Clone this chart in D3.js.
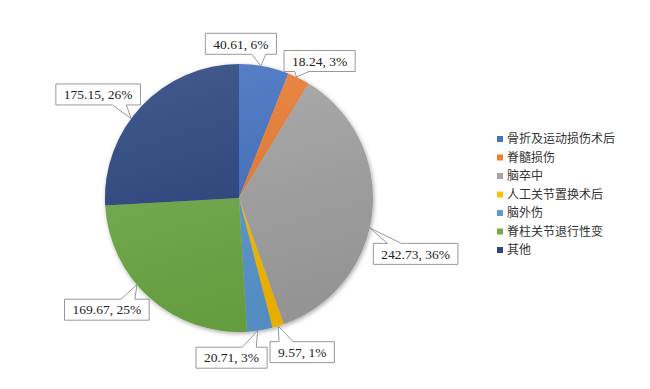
<!DOCTYPE html>
<html>
<head>
<meta charset="utf-8">
<script src="https://cdn.jsdelivr.net/npm/d3@7"></script>
<style>
  body { margin: 0; background: #fff; }
  svg { display: block; }
</style>
</head>
<body>
<div id="vis"></div>
<script>
// categories and values
const categories = ["骨折及运动损伤术后", "脊髓损伤", "脑卒中", "人工关节置换术后", "脑外伤", "脊柱关节退行性变", "其他"]
const values = [40.61, 18.24, 242.73, 9.57, 20.71, 169.67, 175.15]
const colors = ["#4472C4", "#ED7D31", "#A5A5A5", "#FFC000", "#5B9BD5", "#70AD47", "#2A4580"]

// callout layout: box centre offset from the pointer tip, tip shift from mid angle (deg)
const boxDx = [-20, 23, 46, 24, -26, -30, -33]
const boxDy = [-22, -16, 26, 26, 27, 25, -24]
const tipShift = [-1.4, -1, 7, 0, 1, 8, -7]

const width = 650
const height = 389
const cx = 239, cy = 198, radius = 134

const svg = d3.select("#vis").append("svg")
    .attr("width", width)
    .attr("height", height)

const defs = svg.append("defs")
const shadow = defs.append("filter").attr("id", "shadow")
    .attr("x", "-20%").attr("y", "-20%").attr("width", "140%").attr("height", "140%")
shadow.append("feDropShadow")
    .attr("dx", 1).attr("dy", 1.5).attr("stdDeviation", 2)
    .attr("flood-color", "#000").attr("flood-opacity", 0.35)

const shade = defs.append("linearGradient").attr("id", "shade")
    .attr("x1", 0).attr("y1", 0).attr("x2", 0.3).attr("y2", 1)
shade.append("stop").attr("offset", "0%").attr("stop-color", "#fff").attr("stop-opacity", 0.12)
shade.append("stop").attr("offset", "100%").attr("stop-color", "#000").attr("stop-opacity", 0.1)

const data = categories.map((c, i) => ({name: c, value: values[i], i: i}))
const total = d3.sum(values)

const pie = d3.pie().value(d => d.value).sort(null)
const arc = d3.arc().innerRadius(0).outerRadius(radius)
const arcs = pie(data)

const g = svg.append("g").attr("transform", "translate(" + cx + "," + cy + ")")

const slices = g.append("g").attr("filter", "url(#shadow)")
slices.selectAll("path")
    .data(arcs)
    .enter()
    .append("path")
    .attr("d", arc)
    .attr("fill", d => colors[d.data.i])

// soft gradient over the whole pie
g.append("circle")
    .attr("r", radius)
    .attr("fill", "url(#shade)")

// callouts
const labels = svg.append("g")
arcs.forEach(d => {
    const i = d.data.i
    const a = (d.startAngle + d.endAngle) / 2 + tipShift[i] * Math.PI / 180
    const tx = cx + radius * Math.sin(a)
    const ty = cy - radius * Math.cos(a)
    const bx = tx + boxDx[i]
    const by = ty + boxDy[i]
    const pct = Math.round(d.data.value / total * 100)
    const label = d3.format(".2f")(d.data.value) + ", " + pct + "%"

    const lg = labels.append("g")
    const path = lg.append("path")
        .attr("fill", "#fff")
        .attr("stroke", "#7f7f7f")
        .attr("stroke-width", 0.8)
    const txt = lg.append("text")
        .attr("x", bx)
        .attr("y", by)
        .attr("dy", "0.35em")
        .attr("text-anchor", "middle")
        .style("font-family", "'Liberation Serif', 'Times New Roman', serif")
        .style("font-size", "13.5px")
        .attr("fill", "#222")
        .text(label)

    const w = txt.node().getComputedTextLength() + 16
    const h = 21
    const left = bx - w / 2, right = bx + w / 2
    const top = by - h / 2, bottom = by + h / 2
    const half = 7
    const bc = Math.max(left + w * 0.25, Math.min(right - w * 0.25, tx))
    let p
    if (ty > bottom) {
        p = `M${left},${top}H${right}V${bottom}H${bc + half}L${tx},${ty}L${bc - half},${bottom}H${left}Z`
    } else {
        p = `M${left},${top}H${bc - half}L${tx},${ty}L${bc + half},${top}H${right}V${bottom}H${left}Z`
    }
    path.attr("d", p)
})

// legend
const legend = svg.append("g").attr("transform", "translate(497,139)")
const rowH = 18.5
const item = legend.selectAll("g")
    .data(data)
    .enter()
    .append("g")
    .attr("transform", (d, i) => "translate(0," + i * rowH + ")")

item.append("rect")
    .attr("x", 0)
    .attr("y", -3)
    .attr("width", 6)
    .attr("height", 6)
    .attr("fill", d => colors[d.i])

item.append("text")
    .attr("x", 10)
    .attr("y", 0)
    .attr("dy", "0.36em")
    .style("font-family", "'Noto Sans CJK SC', sans-serif")
    .style("font-size", "12px")
    .attr("fill", "#333")
    .text(d => d.name)
</script>
</body>
</html>
